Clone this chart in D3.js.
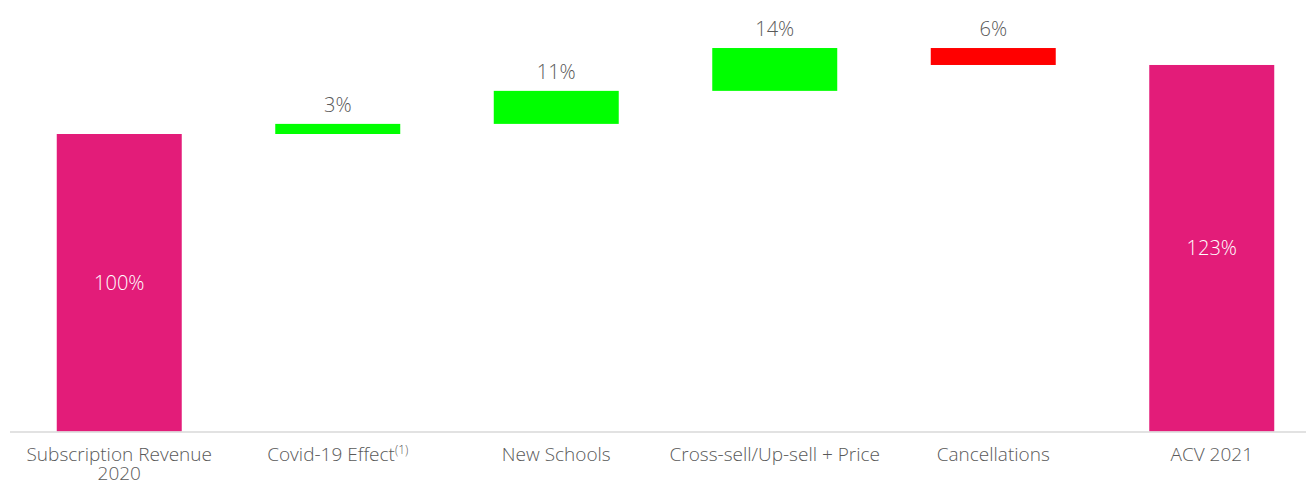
<!DOCTYPE html>
<html>
<head>
<meta charset="utf-8">
<script src="https://cdn.jsdelivr.net/npm/d3@7"></script>
<style>
  html, body { margin: 0; padding: 0; background: #ffffff; }
  svg { display: block; font-family: "Open Sans", "DejaVu Sans", sans-serif; font-weight: 300; }
</style>
</head>
<body>
<svg id="chart" width="1306" height="485"></svg>
<script>
// Revenue bridge: 2020 subscription revenue to 2021 ACV (indexed, %)
const categories = ["Subscription Revenue 2020", "Covid-19 Effect", "New Schools", "Cross-sell/Up-sell + Price", "Cancellations", "ACV 2021"];
const footnotes  = ["", "(1)", "", "", "", ""];
const kinds      = ["total", "delta", "delta", "delta", "delta", "total"];
const values     = [100, 3.4, 11.1, 14.4, -5.7, 123.2];

const colors = { total: "#e31c79", up: "#00ff00", down: "#ff0000" };
const textColor = "#595959";

const width = 1306, height = 485;
const baseline = 431.5;

const svg = d3.select("#chart");

// Build floating segments from running totals
let running = 0;
const steps = categories.map((c, i) => {
  let start, end;
  if (kinds[i] === "total") { start = 0; end = values[i]; running = values[i]; }
  else { start = running; end = running + values[i]; running = end; }
  return { cat: c, note: footnotes[i], kind: kinds[i], value: values[i], start, end };
});

const x = d3.scaleBand()
  .domain(categories)
  .range([10, 1321])
  .paddingInner(0.428)
  .paddingOuter(0.214);

const y = d3.scaleLinear()
  .domain([0, 125])
  .range([baseline, baseline - 125 * 2.975]);

const fmt = v => d3.format(".0f")(Math.abs(v)) + "%";

// Bars
svg.append("g").selectAll("rect")
  .data(steps)
  .join("rect")
  .attr("x", d => x(d.cat))
  .attr("width", x.bandwidth())
  .attr("y", d => y(Math.max(d.start, d.end)))
  .attr("height", d => Math.abs(y(d.start) - y(d.end)))
  .attr("fill", d => d.kind === "total" ? colors.total : (d.value >= 0 ? colors.up : colors.down));

// Baseline
svg.append("line")
  .attr("x1", x.range()[0]).attr("x2", x.range()[1])
  .attr("y1", baseline + 0.5).attr("y2", baseline + 0.5)
  .attr("stroke", "#d9d9d9").attr("stroke-width", 1.5);

// Value labels: totals inside, changes above the segment
svg.append("g").selectAll("text")
  .data(steps)
  .join("text")
  .attr("x", d => x(d.cat) + x.bandwidth() / 2)
  .attr("y", d => d.kind === "total"
    ? (y(d.start) + y(d.end)) / 2 + 7
    : y(Math.max(d.start, d.end)) - 12)
  .attr("text-anchor", "middle")
  .attr("font-size", 20)
  .attr("fill", d => d.kind === "total" ? "#ffffff" : textColor)
  .text(d => fmt(d.value));

// Category labels with wrapping and footnote marks
const catG = svg.append("g");
steps.forEach(d => {
  const cx = x(d.cat) + x.bandwidth() / 2;
  const t = catG.append("text")
    .attr("x", cx)
    .attr("y", 461)
    .attr("text-anchor", "middle")
    .attr("font-size", 19)
    .attr("fill", textColor);
  const words = d.cat.split(" ");
  let line = [];
  let tspan = t.append("tspan").attr("x", cx).attr("dy", 0);
  words.forEach(w => {
    line.push(w);
    tspan.text(line.join(" "));
    if (tspan.node().getComputedTextLength() > 225 && line.length > 1) {
      line.pop();
      tspan.text(line.join(" "));
      line = [w];
      tspan = t.append("tspan")
        .attr("x", cx)
        .attr("dy", 19)
        .text(w);
    }
  });
  if (d.note) {
    t.append("tspan")
      .attr("font-size", 12)
      .attr("dy", -7)
      .text(d.note);
  }
});
</script>
</body>
</html>
